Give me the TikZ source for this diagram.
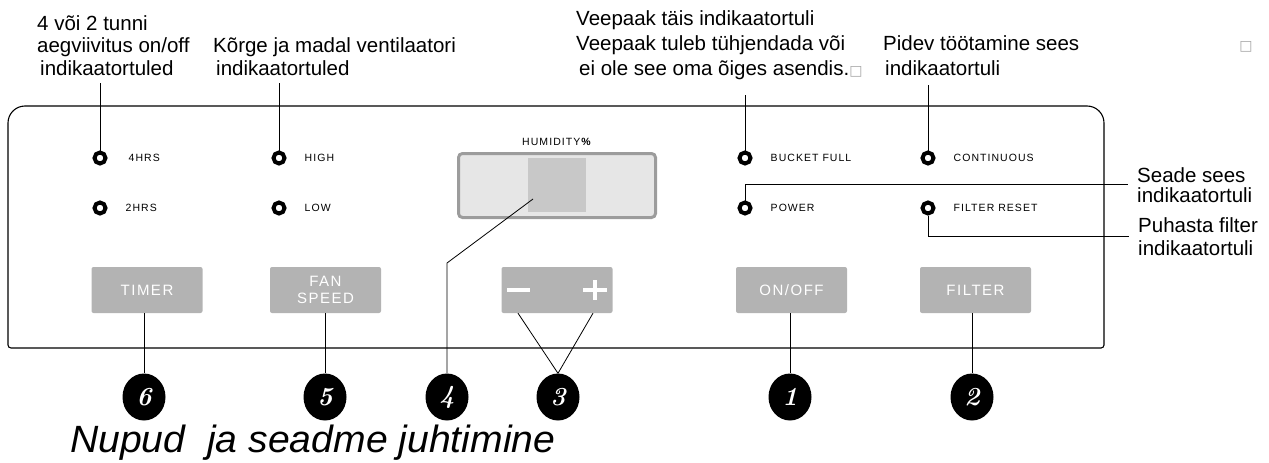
\documentclass[tikz,border=0pt]{standalone}
\usepackage{fontspec}
\setmainfont{Liberation Sans}
\newfontfamily\panelfont[LetterSpace=10]{Liberation Sans}
\newfontfamily\symbfont{DejaVu Sans}
\usetikzlibrary{positioning,shapes.geometric}

\definecolor{btngray}{HTML}{B3B3B3}
\definecolor{dispedge}{HTML}{9C9C9C}
\definecolor{dispfill}{HTML}{E6E6E6}
\definecolor{digitfill}{HTML}{C8C8C8}

\tikzset{
	note/.style={align=left, inner sep=0pt, anchor=base west, font=\fontsize{20.5}{22.5}\selectfont},
	led/.style={circle, draw=black, fill=white, line width=4pt, minimum size=11pt, inner sep=0pt},
	ledtext/.style={inner sep=0pt, font=\panelfont\fontsize{10.5}{12}\selectfont},
	button/.style={fill=btngray, rounded corners=2pt, minimum width=111pt, minimum height=46pt, inner sep=0pt, text=white, align=center, font=\panelfont\fontsize{15}{17}\selectfont},
	badge/.style={ellipse, fill=black, minimum width=43pt, minimum height=47pt, inner sep=0pt, text=white, font=\fontfamily{lmr}\fontseries{bx}\fontshape{it}\fontsize{26}{26}\selectfont},
	leader/.style={line width=0.8pt},
}

\begin{document}
\begin{tikzpicture}[x=1pt, y=-1pt]
	\useasboundingbox (0,0) rectangle (1269,463);
	
	% Draw the panel
	\draw[line width=1.1pt, rounded corners=3pt] (8,230) -- (8,348) -- (1104,348) -- (1104,230) [rounded corners=17pt] -- (1104,106) -- (8,106) -- cycle;
	
	% Indicator lights
	\node[led] (h4) at (100,158) {};
	\node[led] (h2) at (100,208) {};
	\node[led] (high) at (279,158) {};
	\node[led] (low) at (279,208) {};
	\node[led] (bucket) at (745,158) {};
	\node[led] (power) at (745,208) {};
	\node[led] (cont) at (928,158) {};
	\node[led] (freset) at (928,208) {};
	
	\node[ledtext, right=21pt of h4] (h4t) {4HRS};
	\node[ledtext, right=18pt of h2] (h2t) {2HRS};
	\node[ledtext, right=18pt of high] (hight) {HIGH};
	\node[ledtext, right=18pt of low] (lowt) {LOW};
	\node[ledtext, right=18pt of bucket] (buckett) {BUCKET FULL};
	\node[ledtext, right=18pt of power] (powert) {POWER};
	\node[ledtext, right=18pt of cont] (contt) {CONTINUOUS};
	\node[ledtext, right=18pt of freset] (fresett) {FILTER RESET};
	
	% Draw the display
	\node[draw=dispedge, line width=3pt, fill=dispfill, rounded corners=4pt, minimum width=197pt, minimum height=64pt, inner sep=0pt] (disp) at (557,185.5) {};
	\node[fill=digitfill, minimum width=58pt, minimum height=54pt, inner sep=0pt] (digits) at (557,185) {};
	\node[ledtext, above=6pt of disp] (humt) {HUMIDITY\textbf{\%}};
	
	% Buttons
	\node[button] (timer) at (147,290) {TIMER};
	\node[button] (fan) at (325.5,290) {FAN\\SPEED};
	\node[button] (setbtn) at (557,290) {};
	\node[button] (onoff) at (791.5,290) {ON/OFF};
	\node[button] (filter) at (975.5,290) {FILTER};
	\draw[white, line width=4pt] (507,290) -- (530,290);
	\draw[white, line width=4pt] (583,290) -- (607,290) (595,280) -- (595,300);
	\coordinate (minus) at ([xshift=-39pt]setbtn.south);
	\coordinate (plus) at ([xshift=36pt]setbtn.south);
	
	% Numbered badges
	\node[badge] (n6) at (144,397) {6};
	\node[badge] (n5) at (325,397) {5};
	\node[badge] (n4) at (447,397) {4};
	\node[badge] (n3) at (558,397) {3};
	\node[badge] (n1) at (790,397) {1};
	\node[badge] (n2) at (972,397) {2};
	
	% Annotations (placed at the baseline of their last line)
	\node[note] (timernote) at (37,75) {4 või 2 tunni\\aegviivitus on/off\\\hspace*{3pt}indikaatortuled};
	\node[note] (fannote) at (213,75) {Kõrge ja madal ventilaatori\\\hspace*{3pt}indikaatortuled};
	\node[note, font=\fontsize{20.5}{25}\selectfont] (bucketnote) at (576,75) {Veepaak täis indikaatortuli\\Veepaak tuleb tühjendada või\\\hspace*{3pt}ei ole see oma õiges asendis.{\symbfont\fontsize{14}{14}\selectfont\color{gray!70}□}};
	\node[note, font=\fontsize{20.5}{25}\selectfont] (contnote) at (883,75) {Pidev töötamine sees\\\hspace*{2pt}indikaatortuli};
	\node[note, font=\fontsize{20.5}{20}\selectfont] (seadenote) at (1137,202) {Seade sees\\indikaatortuli};
	\node[note] (puhastanote) at (1138,255) {Puhasta filter\\indikaatortuli};
	\node[inner sep=0pt, text=gray!70, font=\symbfont\fontsize{14}{14}\selectfont] (blank) at (1246,47) {□};
	
	% Title
	\node[inner sep=0pt, anchor=base west, xscale=1.03, font=\itshape\fontsize{38}{40}\selectfont] (title) at (70,452) {Nupud\ \ ja seadme juhtimine};
	
	% Draw the leader lines
	\coordinate (topA) at (100,83);
	\coordinate (topB) at (279,83);
	\coordinate (topC) at (745,95);
	\coordinate (topD) at (928,85);
	\draw[leader] (h4) -- (topA);
	\draw[leader] (high) -- (topB);
	\draw[leader] (bucket) -- (topC);
	\draw[leader] (cont) -- (topD);
	\draw[leader] (power) |- ([xshift=-9pt]seadenote.west);
	\draw[leader] (freset) |- ([xshift=-9pt]puhastanote.west);
	
	\draw[leader] (timer.south -| n6) -- (n6);
	\draw[leader] (fan.south -| n5) -- (n5);
	\coordinate (dpt) at (533,199);
	\coordinate (dbend) at (447,263);
	\draw[leader] (dpt) -- (dbend) -- (n4);
	\draw[leader] (minus) -- (n3.north);
	\draw[leader] (plus) -- (n3.north);
	\draw[leader] (onoff.south -| n1) -- (n1);
	\draw[leader] (filter.south -| n2) -- (n2);
\end{tikzpicture}
\end{document}
